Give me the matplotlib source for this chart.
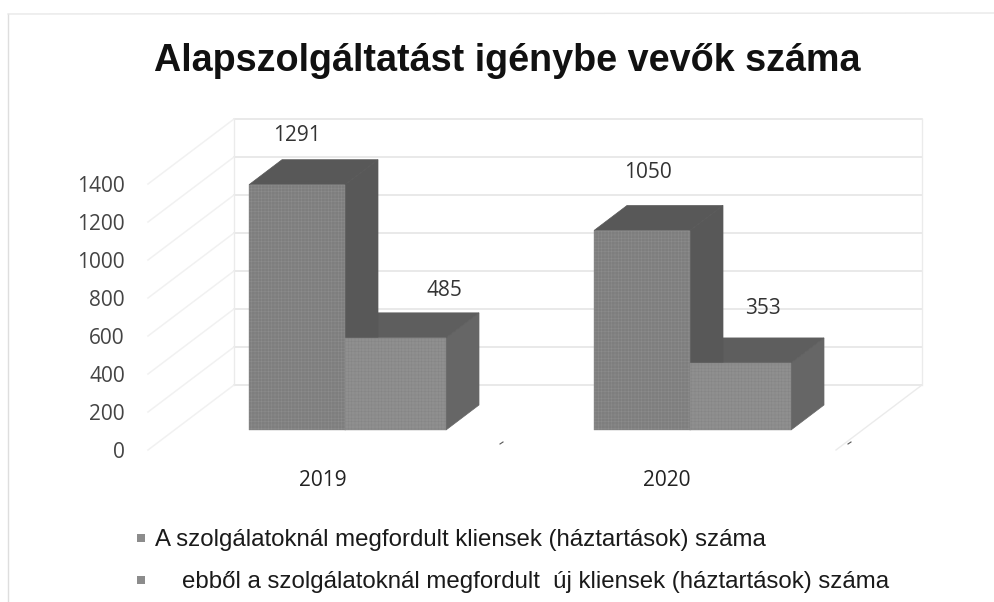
#!/usr/bin/env python3
# -*- coding: utf-8 -*-
import matplotlib
matplotlib.use('Agg')
import matplotlib.pyplot as plt
from matplotlib.patches import Polygon

title = 'Alapszolgáltatást igénybe vevők száma'
years = ['2019', '2020']
total_clients = [1291, 1050]
new_clients = [485, 353]
ticks = [0, 200, 400, 600, 800, 1000, 1200, 1400]
legend_labels = ['A szolgálatoknál megfordult kliensek (háztartások) száma',
                 'ebből a szolgálatoknál megfordult  új kliensek (háztartások) száma']

W, H = 995, 602
PX_X = 345.0   # pixel per kategoria
PX_Y = 0.19    # pixel per ertek
X0, Y0 = 345, 430

plt.rcParams['hatch.linewidth'] = 0.35

# oblique offset: bar depth and wall depth, in data units
bar_dx, bar_dv = 33 / PX_X, 25 / PX_Y
wall_dx, wall_dv = 86 / PX_X, 65 / PX_Y
floor_v = -20 / PX_Y
wall_left = (148 - X0) / PX_X
wall_right = (836 - X0) / PX_X

fig = plt.figure(figsize=(W / 100, H / 100), dpi=100)
ax = fig.add_axes([0, 0, 1, 1])
ax.set_xlim(-X0 / PX_X, (W - X0) / PX_X)
ax.set_ylim((Y0 - H) / PX_Y, Y0 / PX_Y)
ax.axis('off')


def px(x, y):
    # pixel position of the reference -> data coords
    return (x - X0) / PX_X, (Y0 - y) / PX_Y


# scan edge
ax.plot(*zip(px(8, 14), px(8, H)), color='#dedede', lw=1)
ax.plot(*zip(px(8, 14), px(W, 13)), color='#e8e8e8', lw=1)

# walls and gridlines
for t in ticks:
    v = floor_v + t
    ax.plot([wall_left + wall_dx, wall_right + wall_dx], [v + wall_dv] * 2, color='#e3e3e3', lw=1.1, zorder=1)
    ax.plot([wall_left, wall_left + wall_dx], [v, v + wall_dv], color='#f1f1f1', lw=1.1, zorder=1)
    ax.text(wall_left - 23 / PX_X, v - 2 / PX_Y, str(t), ha='right', va='center', fontsize=15,
            family='Open Sans', color='#444444')
ax.plot([wall_left + wall_dx] * 2, [floor_v + wall_dv, floor_v + 1400 + wall_dv], color='#ebebeb', lw=1, zorder=1)
ax.plot([wall_right + wall_dx] * 2, [floor_v + wall_dv, floor_v + 1400 + wall_dv], color='#ebebeb', lw=1, zorder=1)
ax.plot([wall_right, wall_right + wall_dx], [floor_v, floor_v + wall_dv], color='#ebebeb', lw=1, zorder=1)
ax.plot(*zip(px(500, 444), px(503, 442)), color='#555555', lw=0.8)
ax.plot(*zip(px(848, 444), px(851, 442)), color='#555555', lw=0.8)


def box(x1, x2, value, front, dots, side, top):
    # side and top first, then the front face on top
    side_pts = [(x2, 0), (x2 + bar_dx, bar_dv), (x2 + bar_dx, value + bar_dv), (x2, value)]
    top_pts = [(x1, value), (x1 + bar_dx, value + bar_dv), (x2 + bar_dx, value + bar_dv), (x2, value)]
    front_pts = [(x1, 0), (x2, 0), (x2, value), (x1, value)]
    ax.add_patch(Polygon(side_pts, fc=side, ec=side, lw=0.5, zorder=3))
    ax.add_patch(Polygon(top_pts, fc=top, ec=top, lw=0.5, zorder=3))
    ax.add_patch(Polygon(front_pts, fc=front, ec=dots, lw=0.3, zorder=4, hatch='+++++'))


w1, w2 = 96 / PX_X, 101 / PX_X
for i in range(len(years)):
    box(i, i + w2, new_clients[i], '#8f8f8f', '#858585', '#666666', '#5e5e5e')
    box(i - w1, i, total_clients[i], '#7e7e7e', '#8d8d8d', '#585858', '#585858')
    ax.text(*px(323 + 344 * i, 481), years[i], ha='center', va='center', fontsize=15,
            family='Open Sans', color='#222222')

# data labels
label_total = [(297, 135), (648, 172)]
label_new = [(444, 291), (763, 308)]
for i in range(len(years)):
    ax.text(*px(*label_total[i]), str(total_clients[i]), ha='center', va='center',
            fontsize=15, family='Open Sans', color='#333333', zorder=6)
    ax.text(*px(*label_new[i]), str(new_clients[i]), ha='center', va='center',
            fontsize=15, family='Open Sans', color='#333333', zorder=6)

ax.text(*px(507, 61), title, ha='center', va='center', fontsize=27.2,
        fontweight='bold', family='Liberation Sans', color='#111111')

# legend
for lab, xt, yp in zip(legend_labels, [155, 182], [538, 580]):
    mx, my = px(141, yp)
    ax.scatter([mx], [my], marker='s', s=38, color='#8c8c8c', linewidths=0)
    ax.text(*px(xt, yp + 2), lab, ha='left', va='center', fontsize=17.3,
            family='Liberation Sans', color='#1a1a1a')

fig.savefig('out.png', dpi=100)
